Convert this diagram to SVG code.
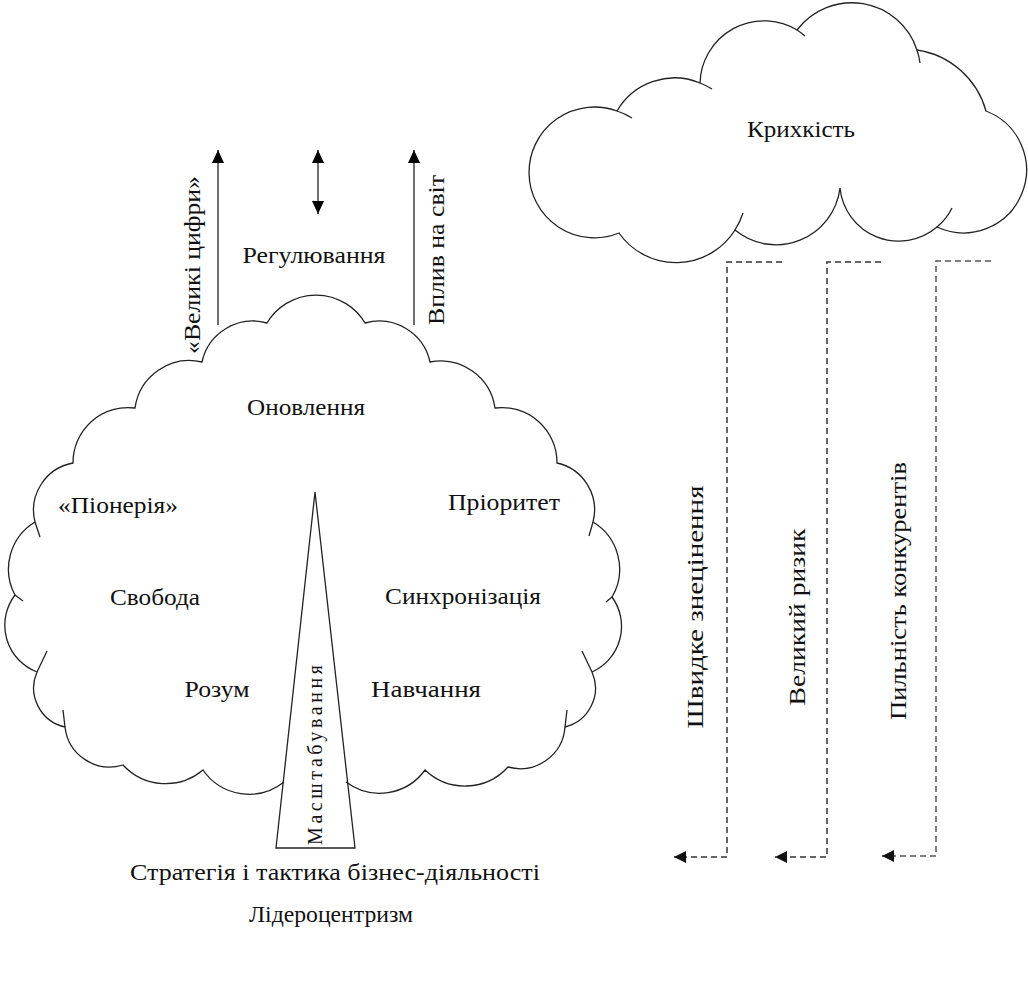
<svg xmlns="http://www.w3.org/2000/svg" width="1028" height="983" viewBox="0 0 1028 983">
<defs>
<style>
.ln{fill:none;stroke:#222;stroke-width:1.3}
.t{font-family:'Liberation Serif','Times New Roman','DejaVu Serif',serif;font-size:24px;fill:#111}
.dash{fill:none;stroke:#333;stroke-width:1.5;stroke-dasharray:6 4}
</style>
<marker id="ah" viewBox="0 0 13 12" refX="13" refY="6" markerWidth="13" markerHeight="12" markerUnits="userSpaceOnUse" orient="auto-start-reverse"><path d="M0,0 L13,6 L0,12 z" fill="#000"/></marker>
<marker id="dh" viewBox="0 0 12 12" refX="12" refY="6" markerWidth="12" markerHeight="12" markerUnits="userSpaceOnUse" orient="auto"><path d="M0,0 L12,6 L0,12 z" fill="#111"/></marker>
</defs>
<rect width="1028" height="983" fill="#fff"/>

<g id="cloud-kryhkist">
<path class="ln" d="M619,233 A65.4,65.4 0 1 1 617,111 A66.5,66.5 0 0 1 700,83 A64,64 0 0 1 797,30 A68.7,68.7 0 0 1 917,50 A84.5,84.5 0 0 1 986,111 A63,63 0 1 1 937,227 A59,59 0 0 1 840,188 A64.4,64.4 0 0 1 735,230 A69.6,69.6 0 0 1 619,233 Z"/>
<path class="ln" d="M617,111 A65.4,65.4 0 0 1 632,118 M700,83 A66.5,66.5 0 0 1 712,89 M797,30 A64,64 0 0 1 805,36 M917,50 A68.7,68.7 0 0 1 920,63 M952,208 A59,59 0 0 1 937,227 M743,213 A69.6,69.6 0 0 1 735,230"/>
<text class="t" x="801" y="137" text-anchor="middle" textLength="108" lengthAdjust="spacingAndGlyphs">Крихкість</text>
</g>

<g id="tree-crown">
<path class="ln" d="M284,782 A56,56 0 0 1 203,770 A58,58 0 0 1 123,765 A45,45 0 0 1 65,727 A40,40 0 0 1 37,672 A50,50 0 0 1 15,595 A55,55 0 0 1 35,522 A48,48 0 0 1 73,463 A55,55 0 0 1 135,408 A55,55 0 0 1 202,362 A52,52 0 0 1 267,323 A57,57 0 0 1 365,323 A52,52 0 0 1 430,362 A55,55 0 0 1 495,408 A55,55 0 0 1 557,463 A48,48 0 0 1 593,522 A55,55 0 0 1 612,597 A50,50 0 0 1 592,672 A40,40 0 0 1 565,727 A45,45 0 0 1 508,767 A58,58 0 0 1 425,770 A56,56 0 0 1 346,782"/>
<path class="ln" d="M35,522 L40,537 M15,595 L23,601 M37,672 L47,651 M65,727 L63,710 M593,522 L589,536 M612,597 L606,602 M592,672 L582,651 M565,727 L567,710"/>
<text class="t" x="306" y="415" text-anchor="middle" textLength="118" lengthAdjust="spacingAndGlyphs">Оновлення</text>
<text class="t" x="118" y="513" text-anchor="middle" textLength="120" lengthAdjust="spacingAndGlyphs">«Піонерія»</text>
<text class="t" x="155" y="605" text-anchor="middle" textLength="90" lengthAdjust="spacingAndGlyphs">Свобода</text>
<text class="t" x="217" y="697" text-anchor="middle" textLength="65" lengthAdjust="spacingAndGlyphs">Розум</text>
<text class="t" x="504" y="510" text-anchor="middle" textLength="112" lengthAdjust="spacingAndGlyphs">Пріоритет</text>
<text class="t" x="463" y="604" text-anchor="middle" textLength="156" lengthAdjust="spacingAndGlyphs">Синхронізація</text>
<text class="t" x="426" y="697" text-anchor="middle" textLength="110" lengthAdjust="spacingAndGlyphs">Навчання</text>
</g>

<g id="trunk">
<path class="ln" d="M315,492 L355,848 L276,848 Z"/>
<text class="t" style="font-size:20px" transform="translate(322,755) rotate(-90)" text-anchor="middle" textLength="180" lengthAdjust="spacing">Масштабування</text>
</g>

<g id="top-labels">
<text class="t" x="314" y="263" text-anchor="middle" textLength="143" lengthAdjust="spacingAndGlyphs">Регулювання</text>
<text class="t" transform="translate(200,265) rotate(-90)" text-anchor="middle" textLength="178" lengthAdjust="spacingAndGlyphs">«Великі цифри»</text>
<text class="t" transform="translate(444,250) rotate(-90)" text-anchor="middle" textLength="150" lengthAdjust="spacingAndGlyphs">Вплив на світ</text>
</g>

<g id="bottom-labels">
<text class="t" x="335" y="880" text-anchor="middle" textLength="410" lengthAdjust="spacingAndGlyphs">Стратегія і тактика бізнес-діяльності</text>
<text class="t" x="331" y="922" text-anchor="middle" textLength="164" lengthAdjust="spacingAndGlyphs">Лідероцентризм</text>
</g>

<g id="risk-labels">
<text class="t" transform="translate(703,607) rotate(-90)" text-anchor="middle" textLength="243" lengthAdjust="spacingAndGlyphs">Швидке знецінення</text>
<text class="t" transform="translate(805,617) rotate(-90)" text-anchor="middle" textLength="177" lengthAdjust="spacingAndGlyphs">Великий ризик</text>
<text class="t" transform="translate(906,591) rotate(-90)" text-anchor="middle" textLength="258" lengthAdjust="spacingAndGlyphs">Пильність конкурентів</text>
</g>

<g id="connectors">
<line class="ln" x1="218" y1="325" x2="218" y2="150" marker-end="url(#ah)"/>
<line class="ln" x1="318" y1="150" x2="318" y2="214" marker-start="url(#ah)" marker-end="url(#ah)"/>
<line class="ln" x1="414" y1="325" x2="414" y2="150" marker-end="url(#ah)"/>
<path class="dash" d="M782,262 H727 V857 H674" marker-end="url(#dh)"/>
<path class="dash" d="M881,262 H827 V857 H775" marker-end="url(#dh)"/>
<path class="dash" style="stroke:#555" d="M991,261 H936 V856 H882" marker-end="url(#dh)"/>
</g>
</svg>
